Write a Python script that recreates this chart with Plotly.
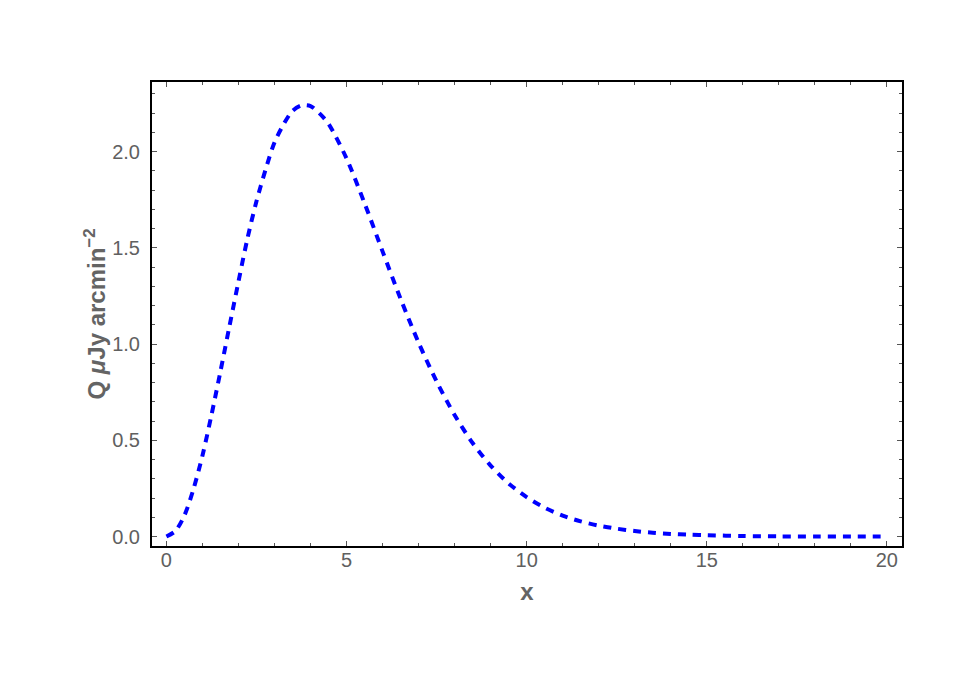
"""Q(x) profile, Mathematica-style framed plot."""

import plotly.graph_objects as go

# curve (finer steps where it bends most)
x_vals = [
    0.0, 0.25, 0.5, 0.75, 1.0, 1.25, 1.5, 1.75, 2.0, 2.25, 2.5, 2.75, 3.0, 3.25,
    3.5, 3.75, 4.0, 4.25, 4.5, 5.0, 5.5, 6.0, 6.5, 7.0, 7.5, 8.0, 8.5, 9.0,
    9.5, 10.0, 10.5, 11.0, 11.5, 12.0, 12.5, 13.0, 13.5, 14.0, 14.5, 15.0,
    16.0, 17.0, 18.0, 19.0, 20.0,
]
q_vals = [
    0.000, 0.029, 0.110, 0.246, 0.420, 0.631, 0.858, 1.093, 1.325, 1.549,
    1.742, 1.905, 2.048, 2.141, 2.212, 2.240, 2.237, 2.199, 2.145, 1.965,
    1.732, 1.482, 1.236, 1.008, 0.806, 0.632, 0.486, 0.369, 0.276, 0.205,
    0.150, 0.109, 0.079, 0.057, 0.041, 0.029, 0.020, 0.014, 0.010, 0.007,
    0.003, 0.001, 0.0005, 0.0002, 0.0001,
]

x_ticks = [0, 5, 10, 15, 20]
y_ticks = [0.0, 0.5, 1.0, 1.5, 2.0]
y_tick_text = ["0.0", "0.5", "1.0", "1.5", "2.0"]

TICK_FONT = dict(family="Liberation Sans, Arial, sans-serif", size=20, color="#606060")
TITLE_FONT = dict(family="Liberation Sans, Arial, sans-serif", size=24, color="#646464", weight="bold")

fig = go.Figure(
    go.Scatter(
        x=x_vals,
        y=q_vals,
        mode="lines",
        line=dict(color="#0000FF", width=4, dash="8px,7px", shape="spline", smoothing=0.8),
        hoverinfo="skip",
    )
)

axis_common = dict(
    showline=True,
    linecolor="black",
    linewidth=2,
    mirror="allticks",
    ticks="inside",
    ticklen=5,
    tickwidth=1,
    tickcolor="#555555",
    showgrid=False,
    zeroline=False,
    tickfont=TICK_FONT,
)

fig.update_xaxes(
    **axis_common,
    range=[-0.4, 20.42],
    tickvals=x_ticks,
    minor=dict(ticks="inside", dtick=1, ticklen=3, tickcolor="#555555", showgrid=False),
    title=dict(text="x", font=TITLE_FONT, standoff=13),
    ticklabelstandoff=-5,
)
fig.update_yaxes(
    **axis_common,
    range=[-0.049, 2.362],
    tickvals=y_ticks,
    ticktext=y_tick_text,
    minor=dict(ticks="inside", dtick=0.1, ticklen=3, tickcolor="#555555", showgrid=False),
    title=dict(text="Q <i>μ</i>Jy arcmin<sup>−2</sup>", font=TITLE_FONT, standoff=0),
    ticklabelstandoff=6,
)

# the page body adds an 8px offset, so the figure is 8px smaller and margins shifted
fig.update_layout(
    width=963,
    height=680,
    margin=dict(l=144, r=69, t=74, b=142, autoexpand=False),
    plot_bgcolor="white",
    paper_bgcolor="white",
    showlegend=False,
)

fig.write_html("out.html")
